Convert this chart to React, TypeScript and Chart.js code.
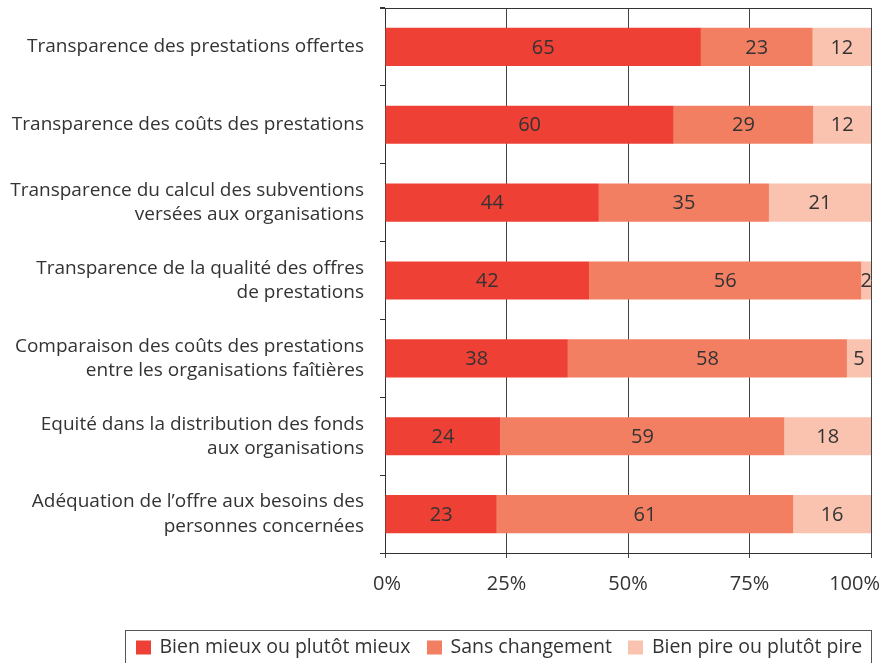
import React, { useEffect, useRef } from "react";
import { Chart, registerables } from "chart.js";

Chart.register(...registerables);

const categories: (string | string[])[] = [
  "Transparence des prestations offertes",
  "Transparence des coûts des prestations",
  ["Transparence du calcul des subventions", "versées aux organisations"],
  ["Transparence de la qualité des offres", "de prestations"],
  ["Comparaison des coûts des prestations", "entre les organisations faîtières"],
  ["Equité dans la distribution des fonds", "aux organisations"],
  ["Adéquation de l’offre aux besoins des", "personnes concernées"],
];

const seriesNames = [
  "Bien mieux ou plutôt mieux",
  "Sans changement",
  "Bien pire ou plutôt pire",
];

const better = [65, 60, 44, 42, 38, 24, 23];
const unchanged = [23, 29, 35, 56, 58, 59, 61];
const worse = [12, 12, 21, 2, 5, 18, 16];

const xTicks = [0, 25, 50, 75, 100];

const colors = ["#EE4035", "#F37F63", "#FAC3AF"];
const FONT = "'Open Sans', 'Noto Sans', sans-serif";
const TEXT = "#333333";

const raw = [better, unchanged, worse];
const rowSums = better.map((_, i) => better[i] + unchanged[i] + worse[i]);
const normalized = raw.map((arr) => arr.map((v, i) => (v / rowSums[i]) * 100));

const valueLabels = {
  id: "valueLabels",
  afterDatasetsDraw(chart: any) {
    const ctx = chart.ctx;
    ctx.save();
    ctx.font = `20px ${FONT}`;
    ctx.fillStyle = TEXT;
    ctx.textAlign = "center";
    ctx.textBaseline = "middle";
    chart.data.datasets.forEach((ds: any, di: number) => {
      const meta = chart.getDatasetMeta(di);
      meta.data.forEach((el: any, i: number) => {
        const v = ds.rawValues[i];
        const cx = (el.x + el.base) / 2;
        ctx.fillText(String(v), cx, el.y + 1);
      });
    });
    ctx.restore();
  },
};

const frame = {
  id: "frame",
  afterDraw(chart: any) {
    const { ctx, chartArea } = chart;
    const { left, right, top, bottom } = chartArea;
    ctx.save();
    ctx.strokeStyle = "#333333";
    ctx.lineWidth = 1;
    ctx.beginPath();
    ctx.moveTo(left - 5, Math.round(top) + 0.5);
    ctx.lineTo(right, Math.round(top) + 0.5);
    ctx.stroke();
    ctx.restore();

    // x tick labels
    const xs = chart.scales.x;
    ctx.save();
    ctx.font = `20px ${FONT}`;
    ctx.fillStyle = TEXT;
    ctx.textBaseline = "middle";
    ctx.textAlign = "left";
    xTicks.forEach((t) => {
      const label = t + "%";
      const w = ctx.measureText(label).width;
      let x = xs.getPixelForValue(t) - w / 2;
      x = Math.max(x, left - 12);
      x = Math.min(x, chart.width - 14 - w);
      ctx.fillText(label, x, bottom + 31);
    });
    ctx.restore();

    // legend
    ctx.save();
    ctx.font = `19.5px ${FONT}`;
    const sq = 15;
    const gapText = 9;
    const gapItem = 16;
    const padX = 10;
    const widths = chart.data.datasets.map((d: any) => ctx.measureText(d.label).width);
    const total =
      padX * 2 +
      widths.reduce((a: number, w: number) => a + sq + gapText + w, 0) +
      gapItem * (widths.length - 1);
    const boxRight = Math.round(right) + 0.5;
    const boxLeft = Math.round(boxRight - total) + 0.5;
    const boxTop = 630.5;
    ctx.strokeStyle = "#555555";
    ctx.lineWidth = 1;
    ctx.strokeRect(boxLeft, boxTop, boxRight - boxLeft, 40);
    let x = boxLeft + padX;
    const cy = boxTop + 17;
    chart.data.datasets.forEach((d: any, i: number) => {
      ctx.fillStyle = d.backgroundColor;
      ctx.fillRect(Math.round(x), cy - 7, sq, 14);
      x += sq + gapText;
      ctx.fillStyle = TEXT;
      ctx.textAlign = "left";
      ctx.textBaseline = "middle";
      ctx.fillText(d.label, x, cy);
      x += widths[i] + gapItem;
    });
    ctx.restore();
  },
};

export default function App() {
  const ref = useRef<HTMLCanvasElement | null>(null);
  useEffect(() => {
    if (!ref.current) return;
    const chart = new Chart(ref.current, {
      type: "bar",
      data: {
        labels: categories as any,
        datasets: seriesNames.map((name, i) => ({
          label: name,
          data: normalized[i],
          rawValues: raw[i],
          backgroundColor: colors[i],
          borderWidth: 0,
          categoryPercentage: 1,
          barPercentage: 0.49,
        })) as any,
      },
      options: {
        indexAxis: "y",
        animation: false,
        responsive: true,
        maintainAspectRatio: false,
        layout: { padding: { top: 8, right: 23, left: 0, bottom: 65 } },
        plugins: {
          legend: { display: false },
          tooltip: { enabled: false },
        },
        scales: {
          x: {
            stacked: true,
            min: 0,
            max: 100,
            afterBuildTicks(scale: any) {
              scale.ticks = xTicks.map((v) => ({ value: v }));
            },
            afterFit(scale: any) {
              scale.height = 45;
              scale.paddingLeft = 0;
              scale.paddingRight = 0;
            },
            ticks: { display: false },
            grid: {
              color: "#444444",
              lineWidth: 1,
              drawTicks: true,
              tickLength: 5,
            },
            border: { display: true, color: "#333333" },
          },
          y: {
            stacked: true,
            offset: true,
            afterFit(scale: any) {
              scale.width = 385;
              scale.paddingTop = 0;
              scale.paddingBottom = 0;
            },
            ticks: {
              color: TEXT,
              font: { family: FONT, size: 19, lineHeight: 1.27 },
              padding: 16,
              autoSkip: false,
            },
            grid: {
              offset: true,
              drawOnChartArea: false,
              drawTicks: true,
              tickLength: 5,
              color: "#333333",
            },
            border: { display: true, color: "#333333" },
          },
        },
      },
      plugins: [valueLabels, frame],
    });
    return () => chart.destroy();
  }, []);
  return (
    <div style={{ position: "fixed", left: 0, top: 0, width: 894, height: 663, background: "#fff" }}>
      <canvas ref={ref} />
    </div>
  );
}
